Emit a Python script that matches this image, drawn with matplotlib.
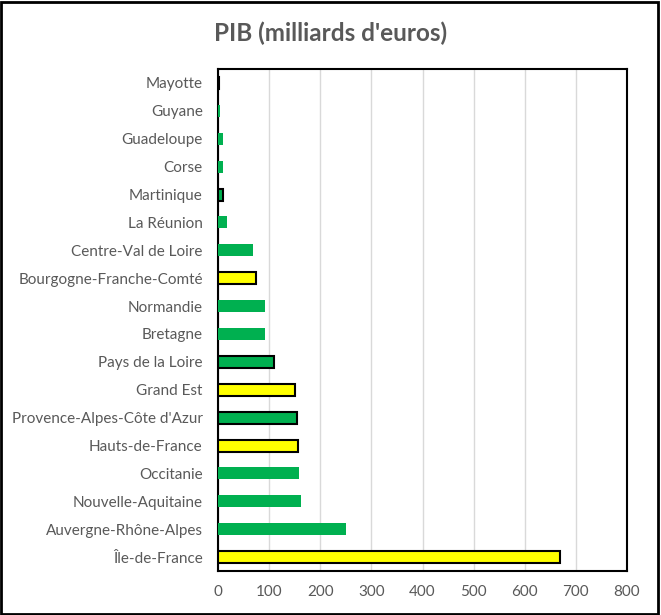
import matplotlib.pyplot as plt
from matplotlib.patches import Rectangle

plt.rcParams['font.family'] = ['Lato', 'DejaVu Sans']

regions = ["Île-de-France", "Auvergne-Rhône-Alpes", "Nouvelle-Aquitaine", "Occitanie",
           "Hauts-de-France", "Provence-Alpes-Côte d'Azur", "Grand Est", "Pays de la Loire",
           "Bretagne", "Normandie", "Bourgogne-Franche-Comté", "Centre-Val de Loire",
           "La Réunion", "Martinique", "Corse", "Guadeloupe", "Guyane", "Mayotte"]
pib = [669, 250, 163, 158, 157, 155, 151, 110, 92, 92, 74, 69, 17, 9, 9, 9.5, 4, 2.7]
colors = ['#FFFF00', '#00B050', '#00B050', '#00B050', '#FFFF00', '#00B050', '#FFFF00', '#00B050',
          '#00B050', '#00B050', '#FFFF00', '#00B050', '#00B050', '#00B050', '#00B050', '#00B050',
          '#00B050', '#00B050']
outlined = [True, False, False, False, True, True, True, True, False, False, True, False,
            False, True, False, False, False, True]

fig = plt.figure(figsize=(6.61, 6.15), dpi=100)
ax = fig.add_axes([0.3298, 0.0715, 0.6188, 0.8163])

edges = ['black' if o else 'none' for o in outlined]
ax.barh(range(len(regions)), pib, height=0.43, color=colors, edgecolor=edges, linewidth=1.5, zorder=3)
ax.set_yticks(range(len(regions)))
ax.set_yticklabels(regions)
ax.set_ylim(-0.5, len(regions) - 0.5)
ax.set_xlim(0, 800)
ax.set_xticks(range(0, 801, 100))
ax.tick_params(length=0, labelsize=11, colors='#595959')
ax.tick_params(axis='y', pad=11)
ax.tick_params(axis='x', pad=10)
ax.grid(axis='x', color='#d9d9d9', linewidth=1, zorder=0)
for s in ax.spines.values():
    s.set_color('black')
    s.set_linewidth(1.5)

fig.text(0.5, 0.946, "PIB (milliards d'euros)", ha='center', va='center',
         fontsize=17.5, fontweight='bold', color='#595959')
fig.patches.append(Rectangle((0.002, 0.002), 0.994, 0.994, transform=fig.transFigure,
                             fill=False, edgecolor='black', linewidth=2))

fig.savefig('out.png', dpi=100)
